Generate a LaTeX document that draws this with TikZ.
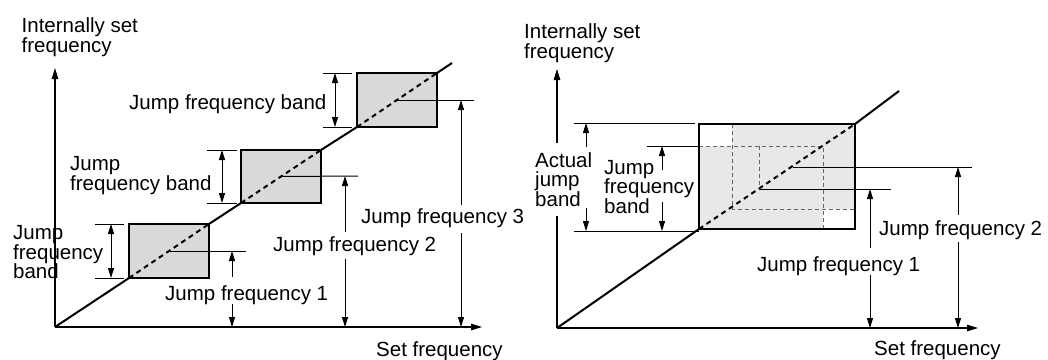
\documentclass[tikz,border=0pt]{standalone}
\usepackage{fontspec}
\setmainfont{Liberation Sans}
\usetikzlibrary{arrows.meta}
\definecolor{boxgray}{HTML}{D9D9D9}
\definecolor{bandgray}{HTML}{E8E8E8}
\definecolor{finegray}{HTML}{666666}
\lineskiplimit=-50pt
\begin{document}
\begin{tikzpicture}[x=1pt,y=-1pt,
  lbl/.style={inner sep=0pt, anchor=north west, align=left,
    font=\fontsize{20.5}{19.5}\selectfont},
  axisline/.style={line width=1.2pt},
  axis/.style={line width=1.2pt, -{Triangle[length=11pt,width=6.5pt]}},
  curve/.style={line width=2pt},
  jumpdash/.style={line width=2pt, dash pattern=on 5pt off 4pt},
  box/.style={draw, line width=2pt, fill=boxgray, inner sep=0pt, outer sep=0pt, anchor=south west},
  openbox/.style={draw, line width=2pt, inner sep=0pt, outer sep=0pt, anchor=south west},
  dim/.style={line width=1pt},
  dimarrow/.style={line width=1pt, -{Triangle[length=10pt,width=6pt]}},
  dimboth/.style={line width=1pt, {Triangle[length=10pt,width=6pt]}-{Triangle[length=10pt,width=6pt]}},
  fine/.style={line width=0.8pt, draw=finegray, dash pattern=on 4pt off 3pt},
]
\useasboundingbox (0,0) rectangle (1048,359);

% ================= LEFT PANEL =================
\coordinate (Lo) at (55,327);
\coordinate (Lyt) at (55,68);
\coordinate (Lxt) at (482,327);
\coordinate (Lend) at (452,63);

\node[box, minimum width=80pt, minimum height=54pt] (b1) at (129,278) {};
\node[box, minimum width=80pt, minimum height=53pt] (b2) at (241,203) {};
\node[box, minimum width=80pt, minimum height=54pt] (b3) at (357,127) {};

\draw[axis] (Lo) -- (Lyt);
\draw[axis] (Lo) -- (Lxt);

\draw[curve] (Lo) -- (b1.south west);
\draw[curve] (b1.north east) -- (b2.south west);
\draw[curve] (b2.north east) -- (b3.south west);
\draw[curve] (b3.north east) -- (Lend);
\draw[jumpdash] (b1.south west) -- (b1.north east);
\draw[jumpdash] (b2.south west) -- (b2.north east);
\draw[jumpdash] (b3.south west) -- (b3.north east);

% band dimensions
\coordinate (w1a) at (95,224);  \coordinate (w1b) at (124,224);
\coordinate (w1c) at (95,278);  \coordinate (w1d) at (124,278);
\coordinate (w1t) at (111,224); \coordinate (w1u) at (111,278);
\draw[dim] (w1a) -- (w1b); \draw[dim] (w1c) -- (w1d);
\draw[dimboth] (w1t) -- (w1u);

\coordinate (w2a) at (207,150); \coordinate (w2b) at (237,150);
\coordinate (w2c) at (207,203); \coordinate (w2d) at (237,203);
\coordinate (w2t) at (222,150); \coordinate (w2u) at (222,203);
\draw[dim] (w2a) -- (w2b); \draw[dim] (w2c) -- (w2d);
\draw[dimboth] (w2t) -- (w2u);

\coordinate (w3a) at (323,73);  \coordinate (w3b) at (352,73);
\coordinate (w3c) at (323,127); \coordinate (w3d) at (352,127);
\coordinate (w3t) at (335,73);  \coordinate (w3u) at (335,127);
\draw[dim] (w3a) -- (w3b); \draw[dim] (w3c) -- (w3d);
\draw[dimboth] (w3t) -- (w3u);

% jump frequency lines
\coordinate (f1e) at (246,251);
\coordinate (f2e) at (358,176);
\coordinate (f3e) at (474,100);
\draw[dim] (b1.center) -- (f1e);
\draw[dim] (b2.center) -- (f2e);
\draw[dim] (b3.center) -- (f3e);

\coordinate (a1top) at (232,251); \coordinate (a1s) at (232,277);
\coordinate (a1b) at (232,304);   \coordinate (a1bot) at (232,327);
\draw[dimarrow] (a1s) -- (a1top);
\draw[dimarrow] (a1b) -- (a1bot);

\coordinate (a2top) at (345,176); \coordinate (a2s) at (345,232);
\coordinate (a2b) at (345,259);   \coordinate (a2bot) at (345,327);
\draw[dimarrow] (a2s) -- (a2top);
\draw[dimarrow] (a2b) -- (a2bot);

\coordinate (a3top) at (461,100); \coordinate (a3s) at (461,205);
\coordinate (a3b) at (461,233);   \coordinate (a3bot) at (461,327);
\draw[dimarrow] (a3s) -- (a3top);
\draw[dimarrow] (a3b) -- (a3bot);

% labels
\node[lbl] (Ltitle) at (21.5,17.5) {Internally set\\frequency};
\node[lbl] (Lband1) at (13,225.5) {Jump\\frequency\\band};
\node[lbl] (Lband2) at (70,156.5) {Jump\\frequency band};
\node[lbl] (Lband3) at (129,94) {Jump frequency band};
\node[lbl] (Ljf1) at (165,285.5) {Jump frequency 1};
\node[lbl] (Ljf2) at (273,236.5) {Jump frequency 2};
\node[lbl] (Ljf3) at (361,208.5) {Jump frequency 3};
\node[lbl] (Lset) at (376,341) {Set frequency};

% ================= RIGHT PANEL =================
\coordinate (Ro) at (557,328);
\coordinate (Rya) at (557,216);
\coordinate (Ryb) at (557,143);
\coordinate (Ryt) at (557,69);
\coordinate (Rxt) at (978,328);
\coordinate (Rend) at (899,91);

% shaded actual band region
\fill[bandgray] (699,146) -- (732,146) -- (732,124) -- (855,124) -- (855,209)
  -- (823,209) -- (823,229) -- (699,229) -- cycle;

% fine dashed construction lines
\coordinate (g1) at (732,124); \coordinate (g2) at (732,209); \coordinate (g3) at (855,209);
\coordinate (g4) at (699,146); \coordinate (g5) at (823,146); \coordinate (g6) at (823,229);
\coordinate (g7) at (759,146); \coordinate (g8) at (759,189);
\draw[fine] (g1) -- (g2) -- (g3);
\draw[fine] (g4) -- (g5) -- (g6);
\draw[fine] (g7) -- (g8);

\node[openbox, minimum width=156pt, minimum height=105pt] (R) at (699,229) {};

\draw[axisline] (Ro) -- (Rya);
\draw[axis] (Ryb) -- (Ryt);
\draw[axis] (Ro) -- (Rxt);

\draw[curve] (Ro) -- (R.south west);
\draw[jumpdash] (R.south west) -- (R.north east);
\draw[curve] (R.north east) -- (Rend);

% actual jump band dimension
\coordinate (r1a) at (574,123); \coordinate (r1b) at (695,123);
\coordinate (r1c) at (574,231); \coordinate (r1d) at (699,231);
\draw[dim] (r1a) -- (r1b); \draw[dim] (r1c) -- (r1d);
\coordinate (ra1) at (586,123); \coordinate (ra1s) at (586,147);
\coordinate (ra2s) at (586,208); \coordinate (ra2) at (586,231);
\draw[dimarrow] (ra1s) -- (ra1);
\draw[dimarrow] (ra2s) -- (ra2);

% jump frequency band dimension
\coordinate (r2a) at (647,146);
\draw[dim] (r2a) -- (g4);
\coordinate (rb1) at (662,146); \coordinate (rb1s) at (662,170);
\coordinate (rb2s) at (662,202); \coordinate (rb2) at (662,231);
\draw[dimarrow] (rb1s) -- (rb1);
\draw[dimarrow] (rb2s) -- (rb2);

% jump frequency lines
\coordinate (h1e) at (891,189);
\coordinate (h2s) at (793,167); \coordinate (h2e) at (972,167);
\draw[dim] (g8) -- (h1e);
\draw[dim] (h2s) -- (h2e);

\coordinate (rc1) at (870,189); \coordinate (rc1s) at (870,248);
\coordinate (rc2s) at (870,275); \coordinate (rc2) at (870,328);
\draw[dimarrow] (rc1s) -- (rc1);
\draw[dimarrow] (rc2s) -- (rc2);

\coordinate (rd1) at (958,167); \coordinate (rd1s) at (958,215);
\coordinate (rd2s) at (958,242); \coordinate (rd2) at (958,328);
\draw[dimarrow] (rd1s) -- (rd1);
\draw[dimarrow] (rd2s) -- (rd2);

% labels
\node[lbl] (Rtitle) at (524,23.5) {Internally set\\frequency};
\node[lbl] (Ractual) at (535,152) {Actual\\jump\\band};
\node[lbl] (Rband) at (604,160) {Jump\\frequency\\band};
\node[lbl] (Rjf1) at (757,256) {Jump frequency 1};
\node[lbl] (Rjf2) at (879,220) {Jump frequency 2};
\node[lbl] (Rset) at (874,340) {Set frequency};
\end{tikzpicture}
\end{document}
